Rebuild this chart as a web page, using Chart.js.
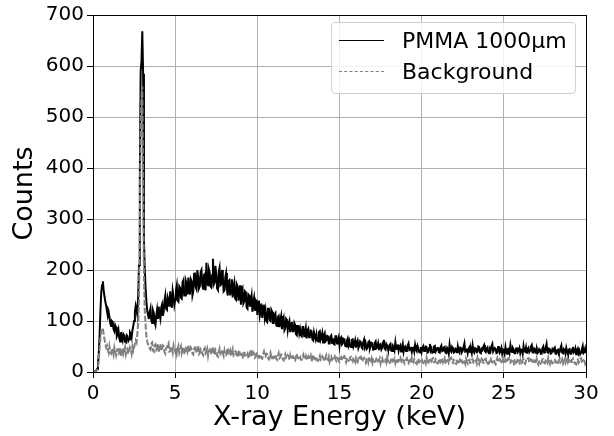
<!DOCTYPE html>
<html>
<head>
<meta charset="utf-8">
<script src="https://cdn.jsdelivr.net/npm/chart.js@4.4.1/dist/chart.umd.min.js"></script>
<style>
  body { margin: 0; background: #fff; }
  #wrap { position: relative; width: 614px; height: 436px; }
  #legend {
    position: absolute; left: 331px; top: 22px; width: 243px; height: 70px;
    border: 1px solid #d0d0d0; border-radius: 4px; background: rgba(255,255,255,0.85);
    font-family: "DejaVu Sans", sans-serif; font-size: 22px; color: #000;
  }
  .row { position: absolute; left: 0; height: 26px; line-height: 26px; }
  .sample { position: absolute; left: 7px; top: 12px; width: 45px; height: 0; }
  .label { position: absolute; left: 70px; top: 0; white-space: nowrap; }
</style>
</head>
<body>
<div id="wrap">
  <canvas id="spectrum" width="614" height="436"></canvas>
  <div id="legend">
    <div class="row" style="top:5px">
      <div class="sample" style="border-top:1.5px solid #000"></div>
      <div class="label">PMMA 1000µm</div>
    </div>
    <div class="row" style="top:36px">
      <div class="sample" style="border-top:1.5px dashed #808080"></div>
      <div class="label">Background</div>
    </div>
  </div>
</div>
<script>
// energy step of the sampled spectrum (keV per point), 0 .. 30 keV
const energyStep = 0.05;

// PMMA 1000um counts, one row per keV (20 channels)
const pmmaCounts = [
  0, 0, 1, 2, 3, 6, 14, 35, 70, 118, 155, 170, 178, 160, 148, 138, 130, 120, 110, 118,
  108, 96, 90, 100, 98, 84, 80, 92, 88, 70, 74, 82, 66, 60, 78, 68, 62, 74, 71, 59,
  58, 72, 70, 61, 64, 78, 75, 68, 82, 90, 100, 118, 130, 122, 112, 150, 210, 380, 590, 610,
  668, 585, 260, 200, 165, 138, 120, 112, 104, 118, 125, 100, 96, 121, 116, 98, 92, 110, 122, 104,
  128, 112, 104, 126, 132, 110, 118, 140, 150, 124, 122, 146, 140, 128, 158, 136, 126, 160, 150, 132,
  142, 160, 170, 140, 138, 168, 165, 146, 144, 176, 180, 150, 150, 178, 172, 152, 185, 160, 152, 182,
  178, 150, 158, 192, 195, 166, 162, 200, 186, 164, 168, 196, 200, 170, 163, 190, 192, 160, 214, 176,
  170, 202, 196, 168, 166, 190, 222, 172, 176, 208, 190, 164, 161, 196, 204, 170, 172, 200, 188, 158,
  160, 186, 194, 162, 150, 178, 180, 150, 170, 182, 146, 168, 176, 144, 142, 172, 168, 140, 158, 170,
  132, 160, 164, 134, 138, 158, 156, 126, 124, 152, 150, 128, 140, 150, 118, 138, 146, 120, 130, 142,
  112, 136, 140, 110, 118, 134, 106, 128, 132, 108, 120, 100, 98, 124, 126, 102, 100, 122, 118, 96,
  96, 112, 115, 92, 90, 108, 110, 88, 102, 110, 84, 100, 106, 82, 86, 104, 101, 82, 94, 100,
  78, 94, 98, 80, 80, 96, 92, 74, 72, 90, 90, 76, 84, 72, 70, 88, 88, 70, 76, 86,
  66, 82, 85, 68, 70, 81, 80, 64, 62, 78, 78, 64, 74, 62, 60, 78, 80, 63, 68, 76,
  58, 72, 76, 60, 62, 71, 70, 56, 56, 70, 72, 57, 66, 55, 54, 70, 70, 56, 62, 68,
  52, 66, 68, 54, 56, 65, 64, 51, 50, 62, 66, 53, 60, 50, 49, 63, 64, 50, 55, 62,
  48, 58, 62, 47, 52, 60, 58, 48, 46, 59, 64, 50, 55, 45, 47, 58, 60, 46, 51, 57,
  56, 44, 45, 57, 60, 47, 49, 56, 43, 52, 54, 44, 47, 58, 63, 46, 44, 55, 52, 45,
  44, 53, 55, 42, 41, 52, 50, 43, 58, 46, 45, 54, 42, 49, 52, 40, 47, 55, 40, 48,
  50, 41, 42, 52, 56, 43, 44, 49, 39, 47, 48, 40, 53, 44, 41, 51, 46, 39, 38, 49,
  40, 48, 51, 41, 43, 50, 49, 38, 39, 47, 55, 42, 46, 38, 39, 50, 51, 40, 43, 47,
  47, 39, 38, 49, 52, 41, 42, 48, 49, 38, 37, 47, 44, 36, 54, 43, 40, 49, 46, 38,
  39, 46, 45, 37, 50, 41, 38, 48, 47, 39, 42, 49, 56, 40, 41, 46, 37, 45, 48, 39,
  44, 37, 52, 41, 38, 47, 46, 39, 40, 50, 49, 38, 37, 45, 43, 50, 53, 41, 39, 46,
  48, 39, 37, 45, 42, 51, 55, 40, 40, 47, 45, 37, 38, 49, 50, 38, 41, 47, 36, 44,
  43, 36, 49, 40, 36, 45, 46, 38, 52, 41, 39, 47, 44, 37, 37, 46, 48, 39, 42, 47,
  37, 44, 45, 36, 51, 41, 40, 48, 36, 44, 47, 39, 42, 50, 53, 38, 38, 46, 44, 36,
  46, 37, 39, 45, 43, 36, 36, 47, 50, 38, 41, 48, 55, 39, 38, 46, 45, 36, 37, 44,
  40, 46, 48, 36, 36, 43, 44, 37, 39, 47, 52, 38, 37, 45, 43, 36, 47, 40, 35, 44,
  45, 36, 36, 44, 49, 38, 40, 46, 35, 43, 46, 37, 42, 35, 38, 45, 51, 37, 39, 46,
  37
];

// Background counts, same energy grid
const backgroundCounts = [
  0, 0, 1, 1, 2, 4, 9, 22, 45, 66, 80, 84, 86, 74, 64, 55, 48, 52, 44, 38,
  50, 38, 36, 46, 42, 34, 48, 40, 33, 44, 45, 36, 38, 47, 30, 41, 47, 35, 40, 48,
  35, 44, 46, 37, 38, 48, 44, 36, 50, 42, 48, 55, 62, 58, 75, 95, 140, 300, 480, 540,
  560, 380, 190, 120, 92, 70, 60, 54, 52, 46, 44, 56, 58, 42, 40, 52, 54, 44, 48, 55,
  38, 50, 55, 42, 44, 52, 50, 39, 36, 47, 48, 54, 57, 40, 41, 50, 46, 38, 52, 45,
  40, 49, 36, 45, 51, 38, 44, 50, 38, 46, 49, 37, 35, 47, 46, 40, 53, 42, 39, 48,
  45, 36, 34, 46, 48, 38, 40, 47, 52, 35, 37, 45, 43, 36, 33, 44, 47, 37, 41, 46,
  32, 42, 44, 35, 38, 46, 49, 34, 35, 44, 41, 32, 30, 40, 46, 36, 39, 44, 36, 31,
  42, 34, 33, 40, 47, 36, 37, 42, 31, 39, 45, 33, 36, 41, 40, 31, 29, 38, 43, 34,
  35, 29, 28, 37, 41, 32, 33, 38, 38, 29, 27, 36, 44, 34, 31, 39, 36, 28, 30, 37,
  37, 29, 28, 34, 33, 27, 26, 35, 40, 30, 30, 36, 35, 27, 25, 33, 38, 29, 32, 27,
  27, 33, 34, 26, 24, 32, 37, 27, 29, 34, 32, 25, 23, 31, 35, 27, 28, 33, 31, 24,
  33, 26, 25, 31, 30, 23, 22, 29, 36, 28, 27, 32, 31, 24, 24, 30, 34, 25, 26, 31,
  23, 29, 31, 25, 27, 32, 21, 26, 34, 27, 25, 30, 29, 22, 22, 28, 32, 24, 26, 31,
  28, 23, 21, 29, 33, 26, 24, 30, 20, 26, 30, 24, 26, 31, 32, 25, 22, 28, 27, 21,
  20, 27, 29, 23, 25, 30, 31, 24, 19, 26, 27, 22, 23, 29, 30, 24, 21, 27, 26, 20,
  27, 21, 19, 26, 24, 29, 30, 22, 21, 27, 28, 22, 18, 25, 25, 19, 29, 24, 22, 27,
  18, 25, 26, 20, 21, 27, 28, 21, 23, 27, 17, 24, 27, 20, 20, 26, 25, 19, 29, 22,
  24, 18, 19, 25, 28, 21, 22, 26, 17, 23, 26, 20, 21, 27, 29, 22, 18, 24, 23, 17,
  20, 25, 27, 19, 17, 23, 24, 18, 28, 21, 19, 25, 23, 18, 16, 24, 26, 19, 21, 26,
  25, 19, 18, 24, 22, 17, 28, 21, 16, 23, 24, 18, 20, 26, 27, 19, 19, 25, 23, 17,
  17, 24, 26, 19, 21, 27, 19, 23, 27, 18, 16, 23, 24, 18, 22, 27, 28, 20, 18, 24,
  23, 17, 16, 22, 25, 19, 20, 26, 27, 19, 18, 24, 22, 16, 26, 21, 17, 23, 24, 18,
  19, 24, 25, 18, 17, 22, 23, 17, 28, 21, 16, 23, 21, 26, 24, 18, 18, 25, 26, 20,
  22, 16, 17, 24, 26, 20, 19, 23, 24, 17, 15, 22, 27, 20, 20, 25, 23, 17, 18, 24,
  16, 22, 24, 18, 21, 26, 27, 19, 18, 23, 22, 16, 15, 23, 25, 18, 20, 26, 26, 19,
  23, 17, 18, 24, 25, 18, 16, 22, 21, 26, 27, 19, 19, 25, 24, 17, 17, 23, 22, 16,
  26, 19, 15, 21, 22, 17, 19, 25, 25, 18, 17, 23, 23, 19, 28, 21, 16, 24, 21, 17,
  18, 23, 24, 19, 20, 15, 16, 23, 26, 19, 21, 25, 17, 22, 25, 18, 22, 26, 19, 23,
  23, 17, 17, 24, 26, 19, 19, 16, 15, 22, 24, 18, 21, 26, 27, 20, 18, 23, 22, 16,
  20
];

const xTicks = [0, 5, 10, 15, 20, 25, 30];
const yTicks = [0, 100, 200, 300, 400, 500, 600, 700];

const FONT = '"DejaVu Sans", sans-serif';

function toPoints(counts) {
    return counts.map((c, i) => ({ x: +(i * energyStep).toFixed(2), y: c }));
}

// matplotlib style box round the plot area
const frame = {
    id: 'frame',
    afterDraw(chart) {
        const a = chart.chartArea;
        const ctx = chart.ctx;
        ctx.save();
        ctx.strokeStyle = '#000';
        ctx.lineWidth = 1;
        ctx.strokeRect(Math.round(a.left) + 0.5, Math.round(a.top) + 0.5,
            Math.round(a.right - a.left), Math.round(a.bottom - a.top));
        ctx.restore();
    }
};

const ctx = document.getElementById('spectrum').getContext('2d');
new Chart(ctx, {
    type: 'line',
    data: {
        datasets: [
            {
                label: 'PMMA 1000µm',
                data: toPoints(pmmaCounts),
                borderColor: '#000',
                borderWidth: 2,
                pointRadius: 0,
                tension: 0,
                order: 1
            },
            {
                label: 'Background',
                data: toPoints(backgroundCounts),
                borderColor: '#808080',
                borderWidth: 2,
                borderDash: [6, 2],
                pointRadius: 0,
                tension: 0,
                order: 0
            }
        ]
    },
    options: {
        responsive: false,
        animation: false,
        layout: { padding: { top: 10, right: 28, left: 0, bottom: 0 } },
        plugins: {
            legend: { display: false },
            tooltip: { enabled: false }
        },
        scales: {
            x: {
                type: 'linear',
                min: 0,
                max: 30,
                afterBuildTicks: s => { s.ticks = xTicks.map(v => ({ value: v })); },
                afterFit: s => { s.height = 64; },
                ticks: { color: '#000', font: { family: FONT, size: 20 }, padding: 4, maxRotation: 0 },
                grid: { color: '#b0b0b0', lineWidth: 1, tickLength: 6, tickColor: '#000' },
                border: { color: '#000', width: 1 },
                title: { display: true, text: 'X-ray Energy (keV)', color: '#000', font: { family: FONT, size: 27 }, padding: { top: 0, bottom: 2 } }
            },
            y: {
                min: 0,
                max: 700,
                afterBuildTicks: s => { s.ticks = yTicks.map(v => ({ value: v })); },
                afterFit: s => { s.width = 93; },
                ticks: { color: '#000', font: { family: FONT, size: 20 }, padding: 3 },
                grid: { color: '#b0b0b0', lineWidth: 1, tickLength: 6, tickColor: '#000' },
                border: { color: '#000', width: 1 },
                title: { display: true, text: 'Counts', color: '#000', font: { family: FONT, size: 27 }, padding: { top: 9, bottom: 0 } }
            }
        }
    },
    plugins: [frame]
});
</script>
</body>
</html>
